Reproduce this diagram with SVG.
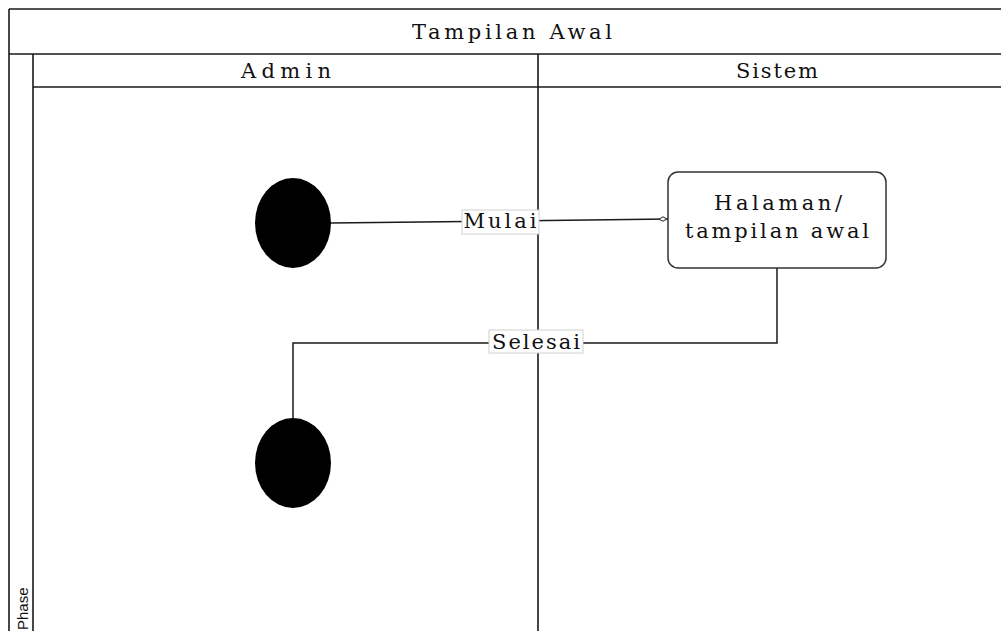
<svg xmlns="http://www.w3.org/2000/svg" width="1001" height="631" viewBox="0 0 1001 631">
  <defs>
    <style>
      .frame { fill: none; stroke: #1a1a1a; stroke-width: 1.6; }
      .lbl { font-family: "DejaVu Serif", "Liberation Serif", serif; font-size: 21px; fill: #111; text-anchor: middle; }
      .edge { fill: none; stroke: #1a1a1a; stroke-width: 1.5; }
      .tag { fill: #fff; stroke: #d0d0d0; stroke-width: 1; }
      .dot { fill: #000; }
    </style>
    <marker id="openTip" viewBox="0 0 10 6" refX="10" refY="3" markerWidth="10" markerHeight="6" markerUnits="userSpaceOnUse" orient="auto">
      <path d="M1,3 L5,0.8 L9,3 L5,5.2 Z" fill="#fff" stroke="#333" stroke-width="1"/>
    </marker>
  </defs>

  <rect width="1001" height="631" fill="#fff"/>

  <!-- pool and lanes -->
  <g id="pool">
    <path class="frame" d="M9,9 H1003 M9,9 V633 M9,54 H1003 M33,54 V633 M33,87 H1003 M538,54 V633"/>
    <text class="lbl" x="512" y="39" font-size="22" textLength="200" lengthAdjust="spacing">Tampilan Awal</text>
    <text class="lbl" x="286" y="78" textLength="90" lengthAdjust="spacing">Admin</text>
    <text class="lbl" x="777" y="78" textLength="82" lengthAdjust="spacing">Sistem</text>
    <text x="28" y="630" font-family="Liberation Sans Narrow, Liberation Sans, sans-serif" font-size="15" fill="#111" transform="rotate(-90 28 630)">Phase</text>
  </g>

  <!-- connectors -->
  <g id="connectors">
    <path class="edge" d="M331,223 L668,219" marker-end="url(#openTip)"/>
    <rect class="tag" x="462" y="210" width="77" height="24"/>
    <text class="lbl" x="500" y="228" textLength="73" lengthAdjust="spacing">Mulai</text>
    <path class="edge" d="M777,268 V343 H293 V418"/>
    <rect class="tag" x="489" y="330" width="94" height="23"/>
    <text class="lbl" x="536" y="349" textLength="88" lengthAdjust="spacing">Selesai</text>
  </g>

  <g id="start">
    <ellipse class="dot" cx="293" cy="223" rx="38" ry="45"/>
  </g>

  <g id="halaman">
    <rect x="668" y="172" width="218" height="96" rx="10" ry="10" fill="#fff" stroke="#333" stroke-width="1.5"/>
    <text class="lbl" x="778" y="210" textLength="128" lengthAdjust="spacing">Halaman/</text>
    <text class="lbl" x="777" y="238" textLength="184" lengthAdjust="spacing">tampilan awal</text>
  </g>

  <g id="end">
    <ellipse class="dot" cx="293" cy="463" rx="38" ry="45"/>
  </g>
</svg>
